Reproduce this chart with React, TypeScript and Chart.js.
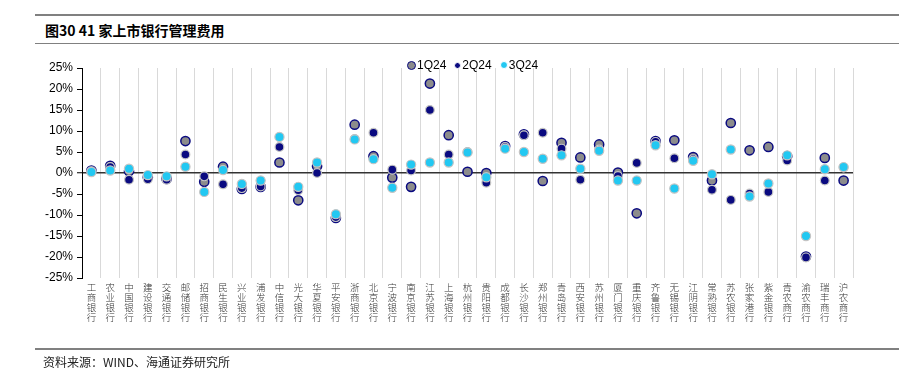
import React, { useEffect, useRef } from "react";
import { Chart, registerables } from "chart.js";

Chart.register(...registerables);

const categories = [
  "工商银行", "农业银行", "中国银行", "建设银行", "交通银行", "邮储银行", "招商银行", "民生银行",
  "兴业银行", "浦发银行", "中信银行", "光大银行", "华夏银行", "平安银行", "浙商银行", "北京银行",
  "宁波银行", "南京银行", "江苏银行", "上海银行", "杭州银行", "贵阳银行", "成都银行", "长沙银行",
  "郑州银行", "青岛银行", "西安银行", "苏州银行", "厦门银行", "重庆银行", "齐鲁银行", "无锡银行",
  "江阴银行", "常熟银行", "苏农银行", "张家港行", "紫金银行", "青农商行", "渝农商行", "瑞丰商行",
  "沪农商行",
];

const q1_24 = [0.6, 1.7, 0.4, -1.0, -1.4, 7.6, -2.1, 1.5, -3.8, -3.3, 2.5, -6.5, 1.6, -10.7, 11.5, 4.0,
  -1.1, -3.3, 21.3, 9.0, 0.3, 0.0, 6.4, 9.2, -1.9, 7.2, 3.7, 6.8, 0.1, -9.6, 7.6, 7.8,
  3.8, -1.8, 11.9, 5.4, 6.2, 4.0, -19.9, 3.6, -1.8];
const q2_24 = [0.4, 1.4, -1.6, -1.5, -1.6, 4.4, -0.8, -2.7, -3.6, -3.2, 6.2, -4.1, 0.0, -10.5, 8.1, 9.6,
  0.8, 0.6, 15.0, 4.4, 5.0, -2.3, 6.2, 9.0, 9.6, 5.8, -1.6, 5.6, -0.7, 2.4, 7.4, 3.5,
  3.3, -4.0, -6.4, -4.9, -4.5, 3.0, -20.1, -1.8, 1.3];
const q3_24 = [0.25, 0.6, 1.0, -0.5, -0.8, 1.5, -4.5, 0.7, -2.6, -1.8, 8.6, -3.3, 2.5, -9.8, 8.0, 3.3,
  -3.5, 2.0, 2.5, 2.5, 4.9, -1.0, 5.8, 5.0, 3.4, 4.2, 1.0, 5.3, -1.8, -1.8, 6.6, -3.7,
  2.9, -0.3, 5.6, -5.6, -2.5, 4.2, -15.0, 0.9, 1.4];

const seriesNames = ["1Q24", "2Q24", "3Q24"];
const yTicks = [-25, -20, -15, -10, -5, 0, 5, 10, 15, 20, 25];

const NAVY = "#0a0a80";
const GREY = "#8c8c8c";
const CYAN = "#22c8f2";
const HALO = "#c4c4c4";

export default function App() {
  const ref = useRef<HTMLCanvasElement | null>(null);

  useEffect(() => {
    if (!ref.current) return;
    const chart = new Chart(ref.current, {
      type: "line",
      data: {
        labels: categories.map((c) => c.split("")),
        datasets: [
          {
            label: seriesNames[0],
            data: q1_24,
            showLine: false,
            pointRadius: 4.6,
            pointBackgroundColor: GREY,
            pointBorderColor: NAVY,
            pointBorderWidth: 1.5,
            order: 3,
          },
          {
            label: seriesNames[1],
            data: q2_24,
            showLine: false,
            pointRadius: 4.4,
            pointBackgroundColor: NAVY,
            pointBorderColor: HALO,
            pointBorderWidth: 1.2,
            order: 2,
          },
          {
            label: seriesNames[2],
            data: q3_24,
            showLine: false,
            pointRadius: 4.6,
            pointBackgroundColor: CYAN,
            pointBorderColor: HALO,
            pointBorderWidth: 1.2,
            order: 1,
          },
        ],
      },
      options: {
        responsive: false,
        animation: false,
        layout: { padding: { left: 0, right: 46, top: 68, bottom: 0 } },
        plugins: { legend: { display: false }, tooltip: { enabled: false } },
        scales: {
          x: {
            type: "category",
            offset: true,
            border: { display: false },
            grid: { offset: true, color: "#d9d9d9", lineWidth: 1, drawTicks: false },
            ticks: {
              autoSkip: false,
              maxRotation: 0,
              minRotation: 0,
              padding: 5,
              color: "#333",
              font: { family: "'Noto Sans CJK SC', sans-serif", size: 9.5, weight: 300, lineHeight: "9.7px" },
            },
            afterFit: (scale: any) => {
              scale.height = 97;
            },
          },
          y: {
            min: -25,
            max: 25,
            afterBuildTicks: (scale: any) => {
              scale.ticks = yTicks.map((v) => ({ value: v }));
            },
            border: { display: true, color: "#000", width: 1 },
            grid: {
              color: (ctx: any) => (ctx.tick && ctx.tick.value === 0 ? "#333" : "rgba(0,0,0,0)"),
              lineWidth: (ctx: any) => (ctx.tick && ctx.tick.value === 0 ? 1.5 : 1),
              drawTicks: true,
              tickLength: 5,
              tickColor: "#000",
              tickWidth: 1,
            },
            ticks: {
              padding: 4,
              color: "#000",
              font: { family: "'Liberation Sans', Arial, sans-serif", size: 12 },
              callback: (v: any) => v + "%",
            },
            afterFit: (scale: any) => {
              scale.width = 82;
            },
          },
        },
      },
    });
    return () => chart.destroy();
  }, []);

  const legendItems = [
    { name: seriesNames[0], fill: GREY, border: NAVY, size: 9, bw: 1.5 },
    { name: seriesNames[1], fill: NAVY, border: "#ffffff", size: 7, bw: 1 },
    { name: seriesNames[2], fill: CYAN, border: "#ffffff", size: 8, bw: 1 },
  ];

  return (
    <div style={{ position: "absolute", left: 0, top: 0, width: 899, height: 375, background: "#fff", overflow: "hidden" }}>
      <div style={{ position: "absolute", left: 35, top: 14, width: 864, height: 2, background: "#808080" }} />
      <div
        style={{
          position: "absolute",
          left: 45,
          top: 20,
          fontFamily: "'Noto Sans CJK SC', sans-serif",
          fontWeight: 700,
          fontSize: 14,
          lineHeight: "20px",
          color: "#000",
          whiteSpace: "nowrap",
        }}
      >
        图30 41 家上市银行管理费用
      </div>
      <div style={{ position: "absolute", left: 35, top: 43, width: 864, height: 1, background: "#808080" }} />
      <canvas ref={ref} width={899} height={375} style={{ position: "absolute", left: 0, top: 0 }} />
      <div
        style={{
          position: "absolute",
          left: 407,
          top: 58,
          display: "flex",
          alignItems: "center",
          fontFamily: "'Liberation Sans', Arial, sans-serif",
          fontSize: 12,
          color: "#000",
          whiteSpace: "nowrap",
        }}
      >
        {legendItems.map((it, i) => (
          <div key={i} style={{ display: "flex", alignItems: "center", marginRight: i < 2 ? 8 : 0 }}>
            <span
              style={{
                display: "inline-block",
                width: it.size,
                height: it.size,
                borderRadius: "50%",
                background: it.fill,
                border: `${it.bw}px solid ${it.border}`,
                boxSizing: "border-box",
                marginRight: 1,
              }}
            />
            <span>{it.name}</span>
          </div>
        ))}
      </div>
      <div style={{ position: "absolute", left: 35, top: 348, width: 864, height: 2, background: "#808080" }} />
      <div
        style={{
          position: "absolute",
          left: 43,
          top: 354,
          fontFamily: "'Noto Sans CJK SC', sans-serif",
          fontSize: 12,
          lineHeight: "16px",
          color: "#222",
          whiteSpace: "nowrap",
        }}
      >
        资料来源：WIND、海通证券研究所
      </div>
    </div>
  );
}
